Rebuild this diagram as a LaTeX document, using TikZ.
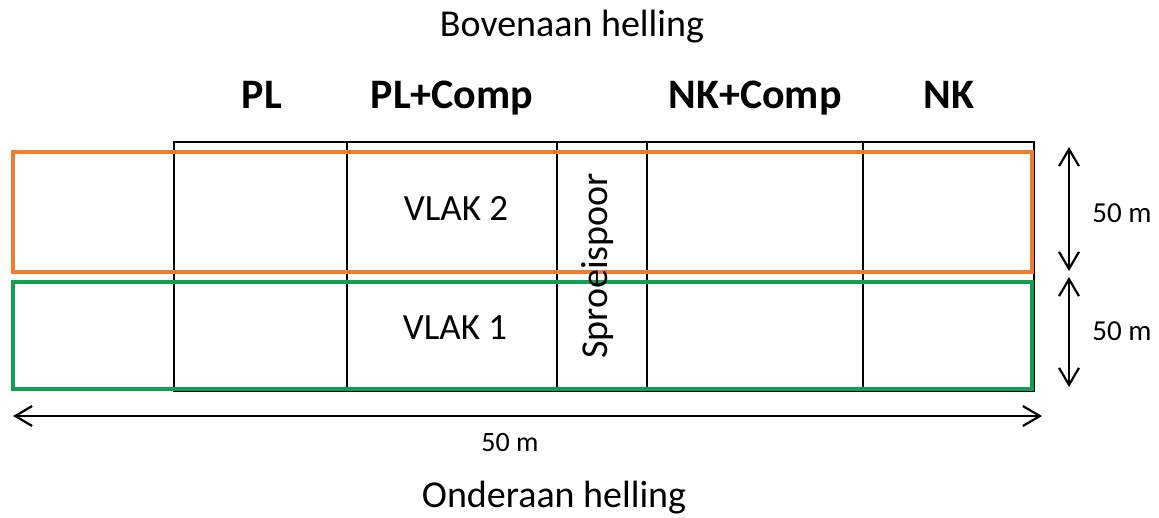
\documentclass[tikz,border=0pt]{standalone}
\usepackage{fontspec}
\setmainfont{Carlito}
\usetikzlibrary{arrows.meta}
\definecolor{plotorange}{RGB}{237,125,49}
\definecolor{plotgreen}{RGB}{16,158,88}
\tikzset{
  grid/.style={draw=black, line width=2.5pt},
  plotA/.style={draw=plotorange, line width=3.5pt},
  plotB/.style={draw=plotgreen, line width=3.5pt},
  dim/.style={line width=2.2pt, {Straight Barb[length=17pt,width=20pt]}-{Straight Barb[length=17pt,width=20pt]}},
  head/.style={font=\fontsize{42}{46}\selectfont\bfseries, inner sep=0pt},
  label/.style={font=\fontsize{38}{42}\selectfont, inner sep=0pt},
  small/.style={font=\fontsize{28}{32}\selectfont, inner sep=0pt}
}
\begin{document}
\begin{tikzpicture}[x=1pt,y=-1pt]
\useasboundingbox (0,0) rectangle (1159,517);
% titles
\node[label, anchor=base] (top) at (572,36) {Bovenaan helling};
\node[label, anchor=base] (bottom) at (554,507) {Onderaan helling};
% treatment headers
\node[head, anchor=base] (hPL) at (262,108) {PL};
\node[head, anchor=base] (hPLC) at (452,108) {PL+Comp};
\node[head, anchor=base] (hNKC) at (755,108) {NK+Comp};
\node[head, anchor=base] (hNK) at (949,108) {NK};
% grid of strips
\draw[grid] (174,142) rectangle (1034,391);
\foreach \x in {347,557,647,863} \draw[grid] (\x,142) -- (\x,391);
% plots
\draw[plotA] (13,152) rectangle (1032,272);
\draw[plotB] (13,282) rectangle (1032,389);
\node[label, font=\fontsize{37}{40}\selectfont, anchor=base] (v2) at (456,220) {VLAK 2};
\node[label, font=\fontsize{37}{40}\selectfont, anchor=base] (v1) at (455,339) {VLAK 1};
\node[label, rotate=90] (spray) at (597,266) {Sproeispoor};
% dimensions
\coordinate (a1) at (1069,147);
\coordinate (a2) at (1069,271);
\coordinate (a3) at (1069,277);
\coordinate (a4) at (1069,387);
\coordinate (b1) at (13,416);
\coordinate (b2) at (1042,416);
\draw[dim] (a1) -- (a2);
\draw[dim] (a3) -- (a4);
\draw[dim] (b1) -- (b2);
\node[small, font=\fontsize{29}{32}\selectfont, anchor=base] (d1) at (1122,222) {50 m};
\node[small, font=\fontsize{29}{32}\selectfont, anchor=base] (d2) at (1122,340) {50 m};
\node[small, anchor=base] (d3) at (510,451) {50 m};
\end{tikzpicture}
\end{document}
